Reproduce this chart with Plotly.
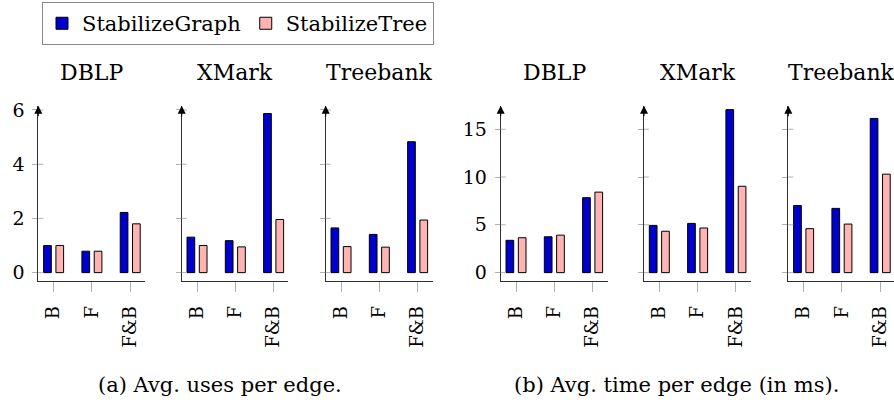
import plotly.graph_objects as go

categories = ["B", "F", "F&B"]
datasets = ["DBLP", "XMark", "Treebank"]

# (a) Avg. uses per edge
uses_graph_dblp = [1.00, 0.79, 2.22]
uses_tree_dblp = [1.00, 0.79, 1.80]
uses_graph_xmark = [1.31, 1.18, 5.87]
uses_tree_xmark = [1.00, 0.95, 1.96]
uses_graph_treebank = [1.65, 1.41, 4.83]
uses_tree_treebank = [0.96, 0.94, 1.94]

# (b) Avg. time per edge (ms)
time_graph_dblp = [3.38, 3.75, 7.84]
time_tree_dblp = [3.65, 3.92, 8.42]
time_graph_xmark = [4.94, 5.15, 17.05]
time_tree_xmark = [4.33, 4.67, 9.03]
time_graph_treebank = [7.02, 6.72, 16.13]
time_tree_treebank = [4.60, 5.08, 10.30]

uses_ticks = [0, 2, 4, 6]
time_ticks = [0, 5, 10, 15]

captions = ["(a) Avg. uses per edge.", "(b) Avg. time per edge (in ms)."]

W, H = 894, 405
FONT = "DejaVu Serif"
BLUE = "#0000cc"
PINK = "#ffb3b3"
TICKC = "#b0b0b0"
AXC = "#303030"


def fx(px):
    return px / W


def fy(py):
    return 1 - py / H


panels = [
    (uses_graph_dblp, uses_tree_dblp, 38.3, 145.0, "a"),
    (uses_graph_xmark, uses_tree_xmark, 181.7, 288.3, "a"),
    (uses_graph_treebank, uses_tree_treebank, 325.7, 432.7, "a"),
    (time_graph_dblp, time_tree_dblp, 500.7, 607.7, "b"),
    (time_graph_xmark, time_tree_xmark, 644.0, 751.0, "b"),
    (time_graph_treebank, time_tree_treebank, 788.3, 894.0, "b"),
]

fig = go.Figure()
layout = {}
annotations = []
shapes = []
px_per_cat = 38.3
y_bot_px, y_top_px = 280.0, 101.0
zero_px = 271.67

for i, (g, t, x0, x1, p) in enumerate(panels):
    n = "" if i == 0 else str(i + 1)
    xa, ya = "x" + n, "y" + n
    fig.add_trace(go.Bar(x=categories, y=g, xaxis=xa, yaxis=ya, name="StabilizeGraph",
                         marker=dict(color=BLUE, line=dict(color="black", width=1)),
                         legendgroup="g", showlegend=(i == 0), hoverinfo="skip"))
    fig.add_trace(go.Bar(x=categories, y=t, xaxis=xa, yaxis=ya, name="StabilizeTree",
                         marker=dict(color=PINK, line=dict(color="black", width=1)),
                         legendgroup="t", showlegend=(i == 0), hoverinfo="skip"))
    if p == "a":
        ppu = (271.67 - 105.33) / 6.0
        ticks = uses_ticks
    else:
        ppu = (271.67 - 125.0) / 15.0
        ticks = time_ticks
    ymin = -(y_bot_px - zero_px) / ppu
    ymax = (zero_px - y_top_px) / ppu
    xr = [-0.4, -0.4 + (x1 - x0) / px_per_cat]
    layout["xaxis" + n] = dict(
        domain=[fx(x0), fx(x1)], range=xr, anchor=ya, type="category",
        showline=True, linecolor=AXC, linewidth=1, ticks="outside", ticklen=10,
        tickcolor=TICKC, tickwidth=1, tickangle=-90, showgrid=False, zeroline=False,
        ticklabelstandoff=7,
        tickfont=dict(family=FONT, size=18, color="black"), fixedrange=True)
    layout["yaxis" + n] = dict(
        domain=[fy(y_bot_px), fy(y_top_px)], range=[ymin, ymax], anchor=xa,
        showline=True, linecolor=AXC, linewidth=1, ticks="outside", ticklen=5,
        tickcolor=TICKC, tickwidth=1, tickvals=ticks, ticklabelstandoff=4,
        showticklabels=(i in (0, 3)), showgrid=False, zeroline=False,
        tickfont=dict(family=FONT, size=19, color="black"), fixedrange=True)
    for tv in ticks:
        shapes.append(dict(type="line", xref=xa + " domain", yref=ya, xsizemode="pixel",
                           xanchor=0, x0=0, x1=5, y0=tv, y1=tv,
                           line=dict(color=TICKC, width=1)))
    annotations.append(dict(x=0, y=1, xref=xa + " domain", yref=ya + " domain",
                            ax=0, ay=12, axref="pixel", ayref="pixel", showarrow=True,
                            arrowhead=2, arrowsize=1.6, arrowwidth=1, arrowcolor="black",
                            text=""))
    annotations.append(dict(x=0.5, y=fy(67), xref=xa + " domain", yref="paper",
                            text=datasets[i % 3], showarrow=False, xanchor="center",
                            yanchor="middle", font=dict(family=FONT, size=22, color="black")))

annotations.append(dict(x=fx(220), y=fy(387), xref="paper", yref="paper", text=captions[0],
                        showarrow=False, xanchor="center", yanchor="middle",
                        font=dict(family=FONT, size=21, color="black")))
annotations.append(dict(x=fx(676.5), y=fy(387), xref="paper", yref="paper", text=captions[1],
                        showarrow=False, xanchor="center", yanchor="middle",
                        font=dict(family=FONT, size=21, color="black")))

fig.update_layout(
    width=W, height=H, margin=dict(l=0, r=0, t=0, b=0),
    paper_bgcolor="white", plot_bgcolor="white",
    barmode="group", bargap=0.358, bargroupgap=0.374,
    showlegend=True, hovermode=False,
    legend=dict(orientation="h", x=fx(42), y=1 + 5 / H, xanchor="left", yanchor="top",
                bordercolor="#888888", borderwidth=1, bgcolor="white",
                font=dict(family=FONT, size=21, color="black"), itemwidth=30),
    annotations=annotations, shapes=shapes,
    **layout)

fig.write_html("out.html", config={"displayModeBar": False},
               post_script="document.body.style.margin='0';document.body.style.overflow='hidden';")
